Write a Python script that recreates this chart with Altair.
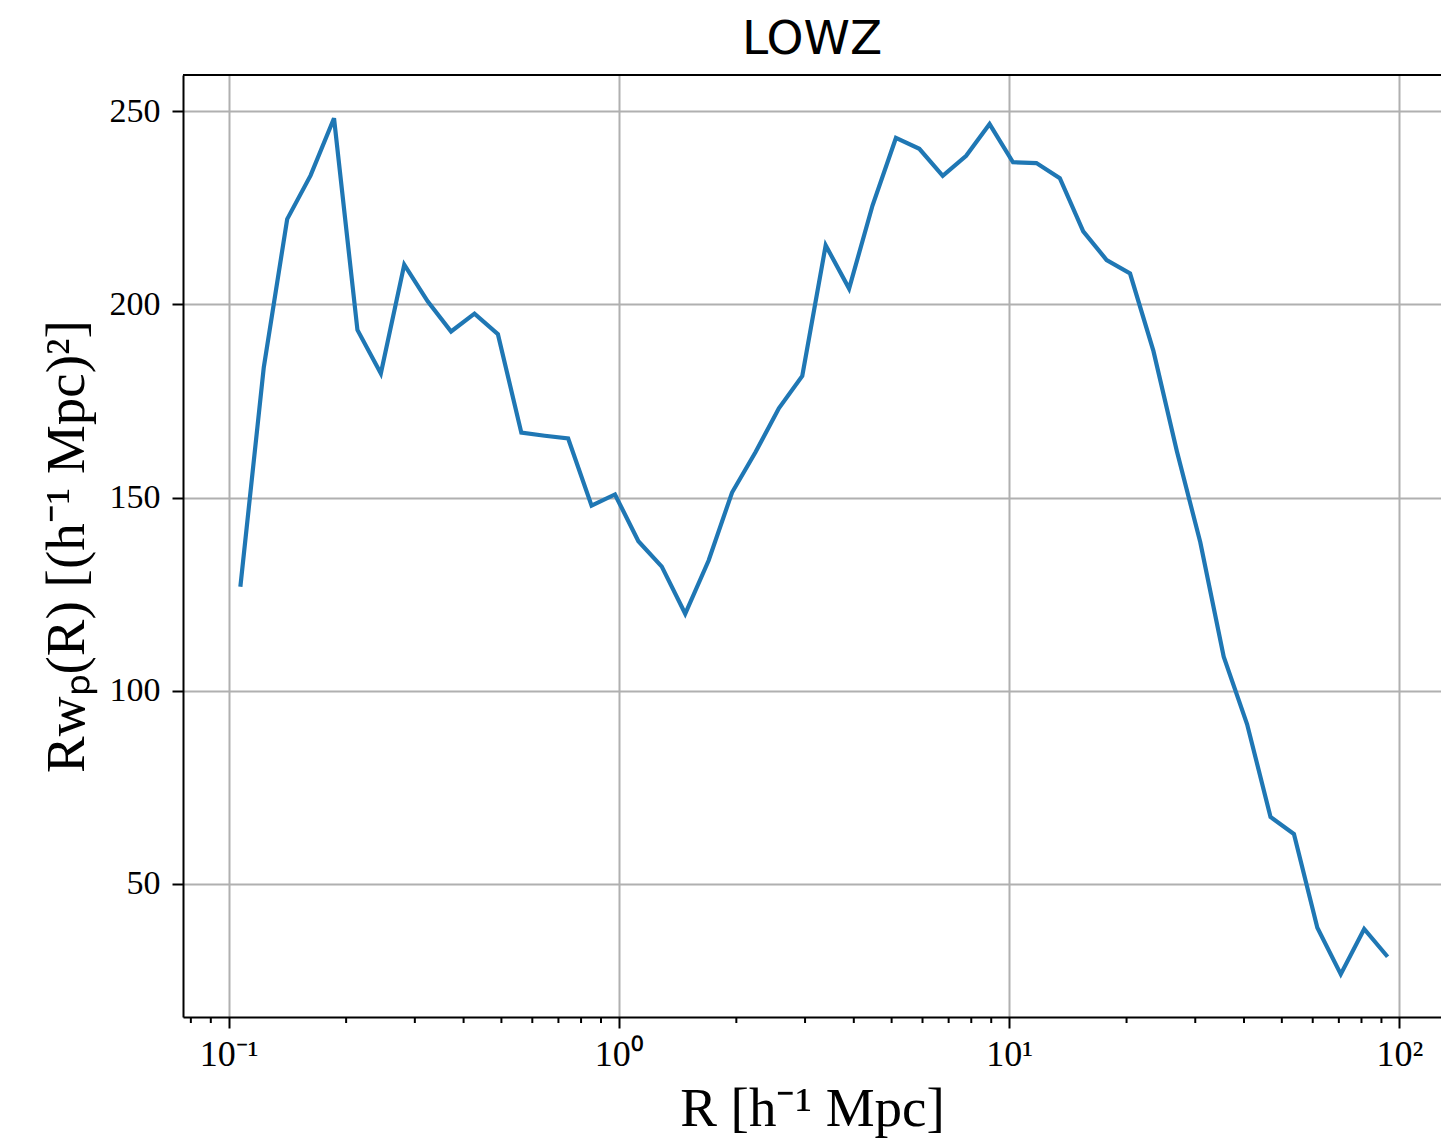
import altair as alt
import pandas as pd

# Bin centres R [h^-1 Mpc]
R = [0.10715, 0.12303, 0.14125, 0.16218, 0.18621, 0.21380, 0.24547, 0.28184,
     0.32359, 0.37154, 0.42658, 0.48978, 0.56234, 0.64565, 0.74131, 0.85114,
     0.97724, 1.12202, 1.28825, 1.47911, 1.69824, 1.94984, 2.23872, 2.57040,
     2.95121, 3.38844, 3.89045, 4.46684, 5.12861, 5.88844, 6.76083, 7.76247,
     8.91251, 10.2329, 11.7490, 13.4896, 15.4882, 17.7828, 20.4174, 23.4423,
     26.9153, 30.9030, 35.4813, 40.7380, 46.7735, 53.7032, 61.6595, 70.7946,
     81.2831, 93.3254]

# R * w_p(R)
RWP = [126.9, 183.7, 222.1, 233.4, 248.2, 193.4, 182.1, 210.3, 200.8, 193.0,
       197.6, 192.3, 166.8, 166.0, 165.3, 147.9, 150.8, 138.7, 132.1, 119.9,
       133.7, 151.3, 161.7, 173.1, 181.5, 215.3, 204.1, 225.6, 243.1, 240.3,
       233.3, 238.5, 246.7, 236.8, 236.6, 232.7, 218.9, 211.5, 208.0, 187.9,
       162.0, 138.4, 108.8, 91.3, 67.3, 62.9, 38.6, 26.6, 38.3, 31.1]

X_MAJOR = [0.1, 1, 10, 100]
X_MINOR = [0.08, 0.09,
           0.2, 0.3, 0.4, 0.5, 0.6, 0.7, 0.8, 0.9,
           2, 3, 4, 5, 6, 7, 8, 9,
           20, 30, 40, 50, 60, 70, 80, 90]
Y_TICKS = [50, 100, 150, 200, 250]

W, H = 1258, 942
X_DOMAIN = [0.07638, 127.9]
Y_DOMAIN = [15.5, 259.4]

df = pd.DataFrame({"R": R, "wp": RWP})
df_minor = pd.DataFrame({"R": X_MINOR})

xscale = alt.Scale(type="log", domain=X_DOMAIN, nice=False)
yscale = alt.Scale(domain=Y_DOMAIN, nice=False, zero=False)

label_expr = ("datum.value < 0.5 ? '10⁻¹' : datum.value < 5 ? '10⁰' : "
              "datum.value < 50 ? '10¹' : '10²'")

x_axis = alt.Axis(values=X_MAJOR, labelExpr=label_expr, grid=True,
                  gridColor="#b0b0b0", gridWidth=2, domainColor="black",
                  domainWidth=2, tickColor="black", tickWidth=2, tickSize=11,
                  labelFont="Liberation Serif", labelFontSize=36,
                  labelColor="black", labelPadding=9, labelFlush=False,
                  labelOverlap=False, titleFont="Liberation Serif",
                  titleFontSize=55, titleFontWeight="normal",
                  titleColor="black", titlePadding=10)
y_axis = alt.Axis(values=Y_TICKS, grid=True, gridColor="#b0b0b0", gridWidth=2,
                  domainColor="black", domainWidth=2, tickColor="black",
                  tickWidth=2, tickSize=11, labelFont="Liberation Serif",
                  labelFontSize=34, labelColor="black", labelPadding=12,
                  labelOverlap=False, titleFont="Liberation Serif",
                  titleFontSize=55, titleFontWeight="normal",
                  titleColor="black", titlePadding=14)

line = alt.Chart(df).mark_line(color="#1f77b4", strokeWidth=4.2).encode(
    x=alt.X("R:Q", scale=xscale, axis=x_axis, title="R [h⁻¹ Mpc]"),
    y=alt.Y("wp:Q", scale=yscale, axis=y_axis, title="Rwₚ(R) [(h⁻¹ Mpc)²]"),
)

minor = alt.Chart(df_minor).mark_rule(color="black", strokeWidth=2).encode(
    x=alt.X("R:Q", scale=xscale, title="R [h⁻¹ Mpc]"),
    y=alt.value(H),
    y2=alt.value(H + 6),
)

top = alt.Chart(pd.DataFrame({"a": [0]})).mark_rule(
    color="black", strokeWidth=2
).encode(x=alt.value(0), x2=alt.value(W), y=alt.value(0))

chart = alt.layer(line, minor, top).properties(
    width=W,
    height=H,
    title=alt.TitleParams("LOWZ", font="DejaVu Sans", fontSize=47,
                          fontWeight="normal", color="black", offset=10),
    autosize=alt.AutoSizeParams(type="none"),
    padding={"left": 183, "top": 75, "right": 0, "bottom": 131},
).configure_view(stroke=None).configure(background="white")

chart.save("out.html", embed_options={"renderer": "svg", "actions": False})
